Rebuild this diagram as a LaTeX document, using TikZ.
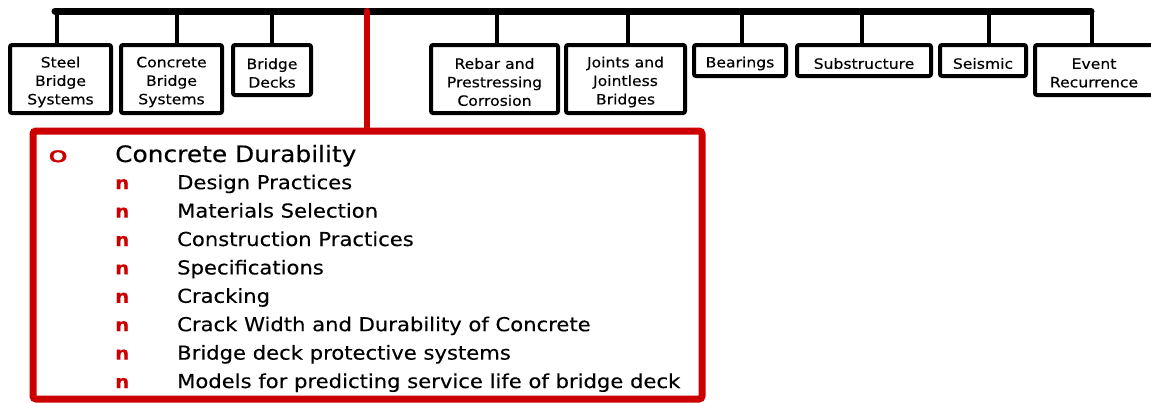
\documentclass[tikz,border=0pt]{standalone}
\usepackage{fontspec}
\setmainfont{DejaVu Sans}[FakeStretch=1.1,FakeBold=0.3]
\definecolor{accent}{RGB}{204,0,0}
\begin{document}
\begin{tikzpicture}[x=1pt,y=-1pt,
  topicbox/.style={draw=black,line width=4pt,rounded corners=2pt,inner sep=0pt},
  topiclabel/.style={align=center,inner sep=0pt,yshift=-3pt,font=\fontsize{14.2}{18.5}\selectfont},
  branch/.style={line width=4pt},
  trunk/.style={line width=7pt,line cap=round},
  focusbox/.style={draw=accent,line width=7pt,rounded corners=3pt,inner sep=0pt},
  heading/.style={anchor=base west,inner sep=0pt,font=\fontsize{22.6}{22}\selectfont},
  item/.style={anchor=base west,inner sep=0pt,font=\fontsize{19.2}{19}\selectfont},
  bullet/.style={anchor=base west,inner sep=0pt,text=accent,font=\bfseries\fontsize{18}{18}\selectfont}
]
\useasboundingbox (0,0) rectangle (1151,402);

% main bar
\coordinate (barL) at (55,11);
\coordinate (barR) at (1091,11);
\draw[trunk] (barL) -- (barR);

% topic boxes
\node[topicbox,minimum width=101,minimum height=68,label={[topiclabel]center:Steel\\Bridge\\Systems}] (steel) at (60.5,79) {};
\node[topicbox,minimum width=101,minimum height=68,label={[topiclabel]center:Concrete\\Bridge\\Systems}] (concb) at (171.5,79) {};
\node[topicbox,minimum width=78,minimum height=50,label={[topiclabel]center:Bridge\\Decks}] (decks) at (272,70) {};
\node[topicbox,minimum width=127,minimum height=68,label={[topiclabel]center:Rebar and\\Prestressing\\Corrosion}] (rebar) at (494.5,79) {};
\node[topicbox,minimum width=119,minimum height=68,label={[topiclabel]center:Joints and\\Jointless\\Bridges}] (joints) at (625.5,79) {};
\node[topicbox,minimum width=92,minimum height=31,label={[topiclabel]center:Bearings}] (bear) at (740,60.5) {};
\node[topicbox,minimum width=134,minimum height=31,label={[topiclabel]center:Substructure}] (subs) at (864,60.5) {};
\node[topicbox,minimum width=86,minimum height=31,label={[topiclabel]center:Seismic}] (seis) at (983,60.5) {};
\node[topicbox,minimum width=124,minimum height=50,label={[topiclabel,xshift=-3pt]center:Event\\Recurrence}] (event) at (1097,70) {};

% branch points on the bar
\coordinate (bSteel) at (57,11);
\coordinate (bConc) at (177,11);
\coordinate (bDecks) at (272,11);
\coordinate (bRebar) at (497,11);
\coordinate (bJoints) at (628,11);
\coordinate (bBear) at (742,11);
\coordinate (bSubs) at (862,11);
\coordinate (bSeis) at (989,11);
\coordinate (bEvent) at (1092,11);
\coordinate (bFocus) at (367,11);

\foreach \b/\n in {bSteel/steel,bConc/concb,bDecks/decks,bRebar/rebar,bJoints/joints,bBear/bear,bSubs/subs,bSeis/seis,bEvent/event}
  \draw[branch] (\b) -- (\b |- \n.north);

% highlighted topic
\node[focusbox,minimum width=669,minimum height=268] (focus) at (367.5,265) {};
\draw[accent,line width=6pt,line cap=round] (bFocus) -- (bFocus |- focus.north);

\node[bullet,font=\fontsize{21}{21}\selectfont\addfontfeature{FakeBold=1.2}] (b0) at (48,162) {\scalebox{1.4}[1]{o}};
\node[heading] (h0) at (115,162) {Concrete Durability};

\foreach \t [count=\i from 0] in {Design Practices,Materials Selection,Construction Practices,Specifications,Cracking,Crack Width and Durability of Concrete,Bridge deck protective systems,Models for predicting service life of bridge deck}{
  \node[bullet] (n\i) at (115,189.2+28.4*\i) {n};
  \node[item] (t\i) at (177,189.2+28.4*\i) {\t};
}
\end{tikzpicture}
\end{document}
